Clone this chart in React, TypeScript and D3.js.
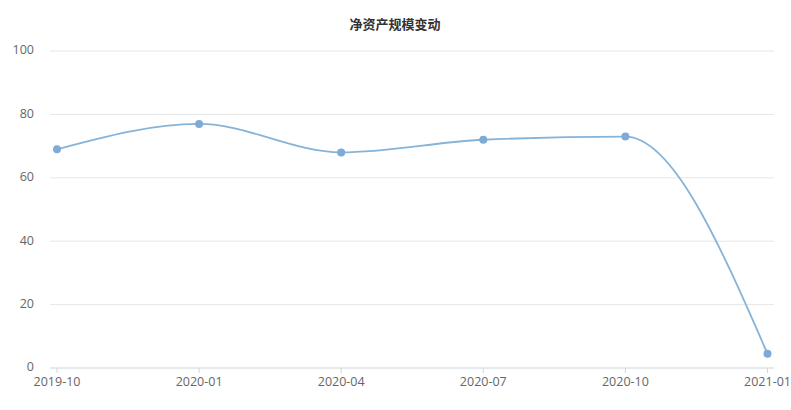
import React from "react";
import * as d3 from "d3";

const categories = ["2019-10", "2020-01", "2020-04", "2020-07", "2020-10", "2021-01"];
const values = [69, 77, 68, 72, 73, 4.5];
const yTicks = [0, 20, 40, 60, 80, 100];
const title = "净资产规模变动";

const W = 791;
const H = 410;
const plotLeft = 50;
const plotRight = 774;
const plotTop = 51;
const plotBottom = 368;

export default function App() {
  const x = d3
    .scalePoint<string>()
    .domain(categories)
    .range([57, 767.5]);
  const y = d3.scaleLinear().domain([0, 100]).range([plotBottom, plotTop]);
  const line = d3
    .line<number>()
    .x((_, i) => x(categories[i]) as number)
    .y((d) => y(d))
    .curve(d3.curveMonotoneX);
  const font = "'Open Sans', 'Noto Sans CJK SC', sans-serif";
  return (
    <svg
      width={W}
      height={H}
      style={{ position: "absolute", left: 0, top: 0, background: "#fff" }}
    >
      <text
        x={395}
        y={25}
        textAnchor="middle"
        dominantBaseline="middle"
        fontFamily="'Noto Sans CJK SC', sans-serif"
        fontWeight="bold"
        fontSize={13}
        fill="#333"
      >
        {title}
      </text>
      {yTicks.map((t) => (
        <g key={t}>
          <line
            x1={plotLeft}
            x2={plotRight}
            y1={y(t)}
            y2={y(t)}
            stroke={t === 0 ? "#cfd6dc" : "#e6e6e6"}
            strokeWidth={1}
          />
          <text
            x={34}
            y={y(t)}
            textAnchor="end"
            dominantBaseline="middle"
            fontFamily={font}
            fontSize={12.5}
            fill="#666"
          >
            {t}
          </text>
        </g>
      ))}
      {categories.map((c) => (
        <g key={c}>
          <line
            x1={x(c)}
            x2={x(c)}
            y1={plotBottom}
            y2={plotBottom + 5}
            stroke="#cfd6dc"
          />
          <text
            x={x(c)}
            y={383}
            textAnchor="middle"
            dominantBaseline="middle"
            fontFamily={font}
            fontSize={12.5}
            fill="#666"
          >
            {c}
          </text>
        </g>
      ))}
      <path
        d={line(values) || ""}
        fill="none"
        stroke="#86b3d8"
        strokeWidth={1.8}
      />
      {values.map((v, i) => (
        <circle
          key={i}
          cx={x(categories[i])}
          cy={y(v)}
          r={4}
          fill="#7eaad6"
        />
      ))}
    </svg>
  );
}
